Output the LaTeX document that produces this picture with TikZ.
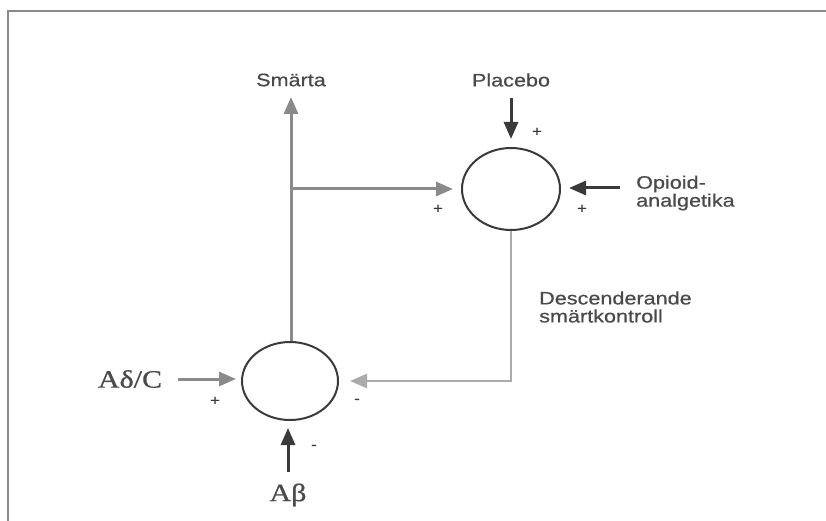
\documentclass[tikz,border=0pt]{standalone}
\usepackage{fontspec}
\usetikzlibrary{arrows.meta,shapes.geometric}
\newfontfamily\labelfont[FakeStretch=1.2,FakeBold=0.6]{Liberation Sans}
\newfontfamily\greekfont[FakeStretch=1.2,FakeBold=0.8]{Liberation Serif}
\definecolor{linegray}{HTML}{8A8A8A}
\definecolor{lightline}{HTML}{ABABAB}
\definecolor{darkline}{HTML}{3A3A3A}
\definecolor{textgray}{HTML}{4A4A4A}
\tikzset{
  lbl/.style={font=\labelfont\fontsize{18}{21}\selectfont, text=textgray, inner sep=0pt},
  lblleft/.style={lbl, anchor=west, align=left},
  greek/.style={font=\greekfont\fontsize{25}{27}\selectfont, text=textgray, inner sep=0pt},
  sign/.style={font=\labelfont\fontsize{14}{15}\selectfont, text=darkline, inner sep=0pt},
  junction/.style={ellipse, draw=darkline, line width=2pt, inner sep=0pt},
  arr/.style={line width=3pt, -{Triangle[length=17pt,width=14pt]}},
  frameline/.style={draw=linegray, line width=1.8pt}
}
\begin{document}
\begin{tikzpicture}[x=1pt,y=-1pt]
  \useasboundingbox (0,0) rectangle (826,521);
  % frame
  \draw[frameline] (8,521) -- (8,11) -- (826,11);

  % the two junctions
  \node[junction, minimum width=98pt, minimum height=82pt] (U) at (511,189) {};
  \node[junction, minimum width=96pt, minimum height=78pt] (L) at (290,381) {};

  % labels
  \node[lbl] (smarta) at (291,80) {Smärta};
  \node[lbl] (placebo) at (511,80) {Placebo};
  \node[lblleft] (opioid) at (636,193) {Opioid-\\[-3pt]analgetika};
  \node[lblleft] (desc) at (539,307) {Descenderande\\[-3pt]smärtkontroll};
  \node[greek] (adc) at (130,379) {Aδ/C};
  \node[greek] (ab) at (288,495) {Aβ};

  % helper points
  \coordinate (smtip) at (291,97);
  \coordinate (branch) at (291,189);
  \coordinate (pltail) at (511,98);
  \coordinate (optail) at (620,188);
  \coordinate (corner) at (511,381);
  \coordinate (adctail) at (178,379);
  \coordinate (abtail) at (288,472);

  % ascending pain signal and its branch
  \draw[arr, linegray] (L.north -| smtip) -- (smtip);
  \draw[arr, linegray, shorten >=8pt] (branch) -- (U.west);

  % inputs to upper junction
  \draw[arr, darkline, shorten >=8pt] (pltail) -- (U.north);
  \draw[arr, darkline, shorten >=8pt] (optail) -- (U.east |- optail);

  % descending control
  \draw[line width=2.6pt, lightline, -{Triangle[length=17pt,width=14pt]}, shorten >=11pt]
    (U.south) -- (corner) -- (L.east);

  % inputs to lower junction
  \draw[arr, linegray, shorten >=5pt] (adctail) -- (L.west |- adctail);
  \draw[arr, darkline, shorten >=7pt] (abtail) -- (L.south -| abtail);

  % signs
  \node[sign] (s1) at (537,132) {+};
  \node[sign] (s2) at (438,209) {+};
  \node[sign] (s3) at (582,209) {+};
  \node[sign] (s4) at (215,401) {+};
  \node[sign] (s5) at (357,401) {-};
  \node[sign] (s6) at (314,447) {-};
\end{tikzpicture}
\end{document}
